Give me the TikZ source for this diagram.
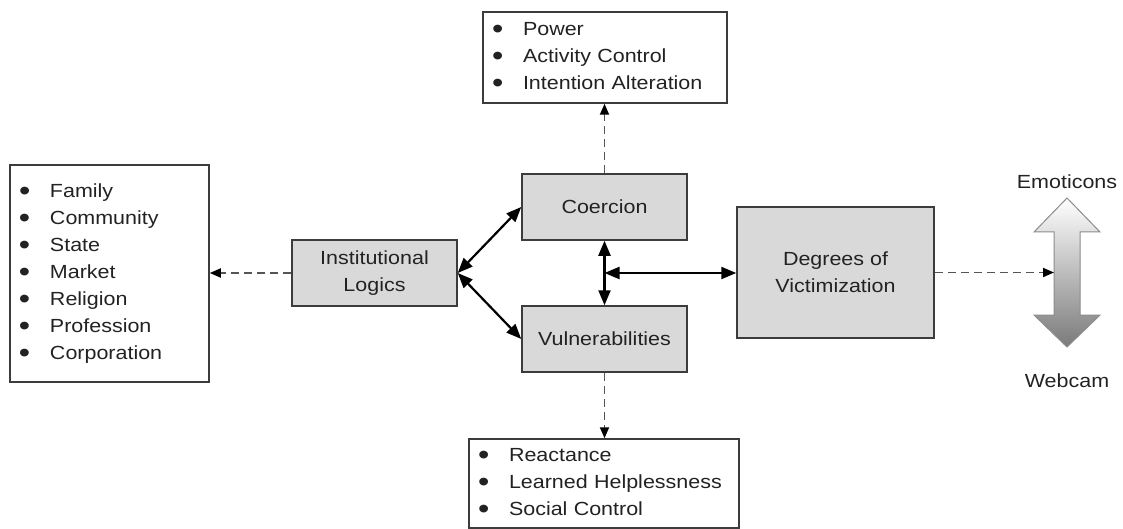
\documentclass[tikz,border=0pt]{standalone}
\usepackage{fontspec}
\setmainfont[FakeStretch=1.13]{Liberation Sans}
\usetikzlibrary{arrows.meta,calc}
\definecolor{boxfill}{HTML}{D9D9D9}
\definecolor{edge}{HTML}{3C3C3C}
\definecolor{ink}{HTML}{222222}
\definecolor{dashc}{HTML}{555555}
\newcommand{\itm}[1]{\makebox[31pt][l]{\raisebox{-3pt}{\scalebox{1.5}{\textbullet}}}#1}
\tikzset{
  base/.style={draw=edge,line width=1.5pt,text=ink,font=\fontsize{19}{27}\selectfont},
  graybox/.style={base,fill=boxfill,align=center,minimum width=165pt,minimum height=66pt,inner sep=0pt},
  listbox/.style={base,fill=white,align=left,inner xsep=9pt,inner ysep=0pt},
  solidarr/.style={black,line width=2.2pt,{Triangle[length=15pt,width=12pt]}-{Triangle[length=15pt,width=12pt]}},
  dasharr/.style={dashc,line width=1.8pt,dash pattern=on 8pt off 5pt,-{Triangle[length=11pt,width=9pt,color=black]}},
  lbl/.style={text=ink,font=\fontsize{19}{27}\selectfont,inner sep=0pt}
}
\begin{document}
\begin{tikzpicture}[x=1pt,y=-1pt]
\useasboundingbox (0,0) rectangle (1123,529);
% gray boxes
\node[graybox] (il) at (374.5,273) {Institutional\\Logics};
\node[graybox] (co) at (604.5,207) {Coercion};
\node[graybox] (vu) at (604.5,339) {Vulnerabilities};
\node[graybox,minimum width=197pt,minimum height=131pt] (dv) at (835.5,272.5) {Degrees of\\Victimization};
% list boxes
\node[listbox,text width=181pt,minimum height=217pt] (fam) at (109.5,273.5)
  {\itm{Family}\\\itm{Community}\\\itm{State}\\\itm{Market}\\\itm{Religion}\\\itm{Profession}\\\itm{Corporation}};
\node[listbox,text width=226pt,minimum height=91pt] (pow) at (605,57.5)
  {\itm{Power}\\\itm{Activity Control}\\\itm{Intention Alteration}};
\node[listbox,text width=252pt,minimum height=89pt] (rea) at (604,483.5)
  {\itm{Reactance}\\\itm{Learned Helplessness}\\\itm{Social Control}};
% double arrow
\shade[top color=white,bottom color=black!52,draw=black!45,line width=1pt]
  (1067,198) -- (1100,232) -- (1080,232) -- (1080,315) -- (1100,315) -- (1067,347)
  -- (1034,315) -- (1054,315) -- (1054,232) -- (1034,232) -- cycle;
\coordinate (dbl) at (1054,273);
\node[lbl] (emo) at (1067,182) {Emoticons};
\node[lbl] (web) at (1067,381) {Webcam};
% connectors
\draw[solidarr] (il.east) -- (co.west);
\draw[solidarr] (il.east) -- (vu.west);
\draw[solidarr] (co.south) -- (vu.north);
\coordinate (mid) at ($(co.south)!0.5!(vu.north)$);
\draw[solidarr] (mid) -- (mid -| dv.west);
\draw[dasharr] (il.west) -- (il.west -| fam.east);
\draw[dasharr] (co.north) -- (co.north |- pow.south);
\draw[dasharr] (vu.south) -- (vu.south |- rea.north);
\draw[dasharr] (dv.east) -- (dv.east -| dbl);
\end{tikzpicture}
\end{document}
